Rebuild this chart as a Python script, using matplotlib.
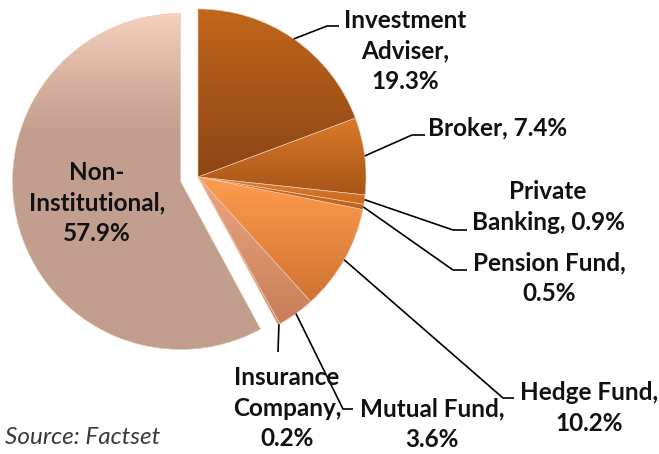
import numpy as np
import matplotlib
matplotlib.use("Agg")
import matplotlib.pyplot as plt
from matplotlib.colors import to_rgb

categories = ["Investment Adviser", "Broker", "Private Banking", "Pension Fund",
              "Hedge Fund", "Mutual Fund", "Insurance Company", "Non-Institutional"]
values = [19.3, 7.4, 0.9, 0.5, 10.2, 3.6, 0.2, 57.9]
label_texts = ["Investment\nAdviser,\n19.3%", "Broker, 7.4%", "Private\nBanking, 0.9%",
               "Pension Fund,\n0.5%", "Hedge Fund,\n10.2%", "Mutual Fund,\n3.6%",
               "Insurance\nCompany,\n0.2%", "Non-\nInstitutional,\n57.9%"]

top_colors = ["#C1661C", "#D97A2A", "#E07E2E", "#D87424", "#FF9C4E", "#EEA682", "#E9A886", "#F8D2BF"]
bot_colors = ["#8C4514", "#A65518", "#C86A20", "#C06018", "#CF7332", "#C77E58", "#D09070", "#C29E8E"]

W, H = 659, 454
fig = plt.figure(figsize=(W / 100, H / 100), dpi=100)
ax = fig.add_axes([0, 0, 1, 1])

def P(x, y):
    return (x, H - y)

cx, cy = 198, 177
R = 168
explode = [0, 0, 0, 0, 0, 0, 0, 18]

wedges, _ = ax.pie(values, startangle=90, counterclock=False, center=P(cx, cy),
                   radius=R, explode=explode, normalize=True,
                   wedgeprops=dict(linewidth=0.4, edgecolor="#EBC3A8"), frame=True)

for i, w in enumerate(wedges):
    verts = w.get_path().vertices
    xmin, ymin = verts.min(axis=0)
    xmax, ymax = verts.max(axis=0)
    n = 256
    t = np.linspace(0, 1, n)
    if i == len(wedges) - 1:
        t = np.clip((t - 0.62) / 0.38, 0, 1) ** 1.3
    c0 = np.array(to_rgb(bot_colors[i]))
    c1 = np.array(to_rgb(top_colors[i]))
    grad = (c0[None, :] * (1 - t[:, None]) + c1[None, :] * t[:, None])[:, None, :]
    grad = np.repeat(grad, 2, axis=1)
    im = ax.imshow(grad, extent=[xmin, xmax, ymin, ymax], origin="lower",
                   aspect="auto", interpolation="bilinear", zorder=w.get_zorder())
    im.set_clip_path(w)
    w.set_facecolor("none")
    w.set_zorder(w.get_zorder() + 0.1)

ax.set_xlim(0, W)
ax.set_ylim(0, H)
ax.set_aspect("equal")
ax.axis("off")

font = dict(family=["Lato", "DejaVu Sans"], fontweight="bold", fontsize=17.5, color="#111111")

cum = np.cumsum([0] + values)
total = sum(values)
def edge_point(i):
    a = np.deg2rad(90 - 360 * (cum[i] + values[i] / 2) / total)
    return (cx + R * np.cos(a), cy - R * np.sin(a))

leaders = {
    0: [(327, 26), (339, 26)],
    1: [(412, 135), (425, 135)],
    2: [(453, 230), (467, 230)],
    3: [(453, 270), (467, 270)],
    4: [(503, 398), (514, 398)],
    5: [(343, 409), (353, 409)],
    6: [(278, 352)],
}
for i, pts in leaders.items():
    sx, sy = edge_point(i)
    xs = [sx] + [p[0] for p in pts]
    ys = [H - sy] + [H - p[1] for p in pts]
    ax.plot(xs, ys, color="black", lw=1.2, zorder=5, solid_capstyle="butt")

label_pos = [(405, 51), (498, 128), (548, 207), (549, 278), (589, 408),
             (432, 424), (287, 408), (97, 203)]
for txt, (x, y) in zip(label_texts, label_pos):
    ax.text(*P(x, y), txt, ha="center", va="center", linespacing=1.42,
            zorder=6, **font)

ax.text(*P(5, 437), "Source: Factset", ha="left", va="center", fontsize=17.5,
        style="italic", fontweight="normal", family=["Lato", "DejaVu Sans"], color="#3A3A3A")

fig.savefig("out.png", dpi=100)
